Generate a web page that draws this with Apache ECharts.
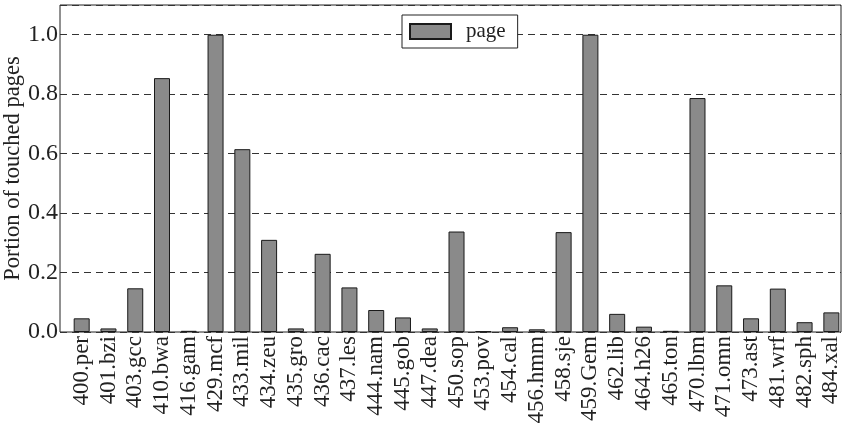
<!DOCTYPE html>
<html>
<head>
<meta charset="utf-8">
<script src="https://cdn.jsdelivr.net/npm/echarts@6/dist/echarts.min.js"></script>
<style>
  html, body { margin: 0; padding: 0; background: #fff; }
  #chart { width: 843px; height: 424px; }
</style>
</head>
<body>
<div id="chart"></div>
<script>
// benchmarks on the x axis
var benchmarks = ['400.per', '401.bzi', '403.gcc', '410.bwa', '416.gam', '429.mcf', '433.mil',
  '434.zeu', '435.gro', '436.cac', '437.les', '444.nam', '445.gob', '447.dea', '450.sop',
  '453.pov', '454.cal', '456.hmm', '458.sje', '459.Gem', '462.lib', '464.h26', '465.ton',
  '470.lbm', '471.omn', '473.ast', '481.wrf', '482.sph', '484.xal'];
// portion of touched pages
var pageValues = [0.046, 0.012, 0.147, 0.854, 0.004, 1.0, 0.615,
  0.31, 0.012, 0.263, 0.15, 0.074, 0.049, 0.012, 0.338,
  0.002, 0.016, 0.009, 0.336, 1.0, 0.061, 0.018, 0.004,
  0.787, 0.157, 0.046, 0.146, 0.033, 0.066];
var yTicks = [0, 0.2, 0.4, 0.6, 0.8, 1.0];

var serif = "'Liberation Serif', 'Times New Roman', serif";
var chart = echarts.init(document.getElementById('chart'));

var barData = [];
for (var i = 0; i < benchmarks.length; i++) {
  barData.push([i, pageValues[i]]);
}
var labelPos = [];
for (var k = 0; k < benchmarks.length; k++) labelPos.push(k);

var option = {
  animation: false,
  backgroundColor: '#fff',
  grid: {
    left: 60, right: 2, top: 5, bottom: 92,
    outerBoundsMode: 'none',
    containLabel: false,
    show: true,
    borderColor: '#222',
    borderWidth: 1
  },
  legend: {
    left: 402, top: 15,
    data: [{ name: 'page', icon: 'rect' }],
    itemWidth: 41, itemHeight: 15,
    padding: [6, 12, 6, 7],
    backgroundColor: '#fff',
    borderColor: '#222',
    borderWidth: 1,
    borderRadius: 0,
    textStyle: { fontFamily: serif, fontSize: 21, color: '#222', padding: [0, 0, 0, 10] }
  },
  xAxis: {
    type: 'value',
    min: -0.81,
    max: 28.36,
    splitLine: { show: false },
    axisLine: { show: false },
    axisTick: { show: false },
    axisLabel: {
      customValues: labelPos,
      rotate: 90,
      margin: 4,
      fontFamily: serif,
      fontSize: 23,
      color: '#222',
      formatter: function (v) { return benchmarks[Math.round(v)]; }
    }
  },
  yAxis: {
    type: 'value',
    min: 0,
    max: 1.1,
    interval: 0.2,
    name: 'Portion of touched pages',
    nameLocation: 'middle',
    nameGap: 35,
    nameMoveOverlap: false,
    nameTextStyle: { fontFamily: serif, fontSize: 22.5, color: '#222' },
    axisLine: { show: false },
    axisTick: { show: false },
    axisLabel: {
      showMaxLabel: false,
      margin: 2,
      fontFamily: serif,
      fontSize: 24,
      color: '#222',
      formatter: function (v) { return yTicks.indexOf(Math.round(v * 10) / 10) >= 0 ? v.toFixed(1) : ''; }
    },
    splitLine: {
      show: true,
      lineStyle: { color: '#333', width: 1, type: [7, 5] }
    }
  },
  series: [{
    name: 'page',
    type: 'bar',
    data: barData,
    barWidth: 16,
    itemStyle: { color: '#8a8a8a', borderColor: '#1a1a1a', borderWidth: 1 }
  }]
};
chart.setOption(option);
</script>
</body>
</html>
